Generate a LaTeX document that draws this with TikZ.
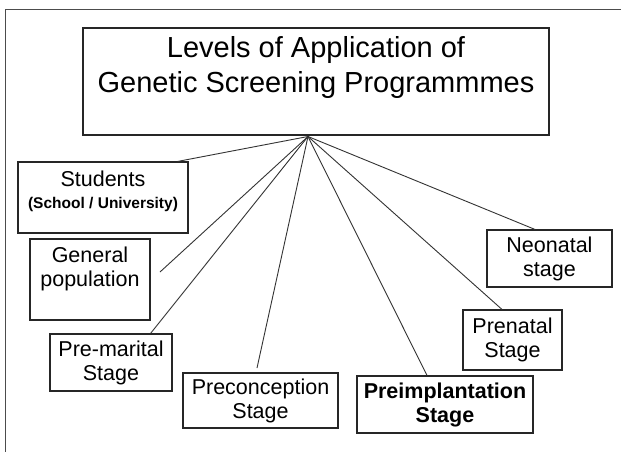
\documentclass[tikz,border=0pt]{standalone}
\usepackage{fontspec}
\setmainfont{Liberation Sans}
\newcommand\bxfont{\fontsize{21.5}{24}\selectfont}
\begin{document}
\begin{tikzpicture}[x=1pt,y=-1pt,
  box/.style={draw=black!85, line width=1.1pt, inner sep=0pt, align=center, font=\bxfont},
  txt/.style={inner sep=0pt, align=center, font=\bxfont},
  link/.style={draw=black!80, line width=0.9pt},
  frameline/.style={draw=black!70, line width=1pt}]
\fill[white] (0,0) rectangle (621,452);
\useasboundingbox (0,0) rectangle (621,452);
\draw[frameline] (5,452) -- (5,10) -- (621,10);
% title
\node[box, line width=1.4pt, minimum width=466pt, minimum height=107pt] (title) at (316,81.5) {};
\node[txt, font=\fontsize{29}{35}\selectfont, anchor=north] (titletext) at (316,36.2)
  {Levels of Application of\\Genetic Screening Programmmes};
% boxes
\node[box, minimum width=170pt, minimum height=71pt] (stud) at (103,197.5) {};
\node[txt] (studtext) at ([yshift=6.5pt]stud.center)
  {Students\\[-2pt]{\bfseries\fontsize{15.5}{18}\selectfont (School / University)}};
\node[box, minimum width=120pt, minimum height=81pt] (gen) at (90,279.5) {};
\node[txt] (gentext) at ([yshift=10.5pt]gen.center) {General\\population};
\node[box, minimum width=122pt, minimum height=57pt] (prem) at (111,362.5) {Pre-marital\\Stage};
\node[box, minimum width=155pt, minimum height=55pt] (pcon) at (260.5,400.5) {Preconception\\Stage};
\node[box, minimum width=176pt, minimum height=57pt, font=\bxfont\bfseries] (pimp) at (445,404.5) {Preimplantation\\Stage};
\node[box, minimum width=99pt, minimum height=60pt] (pnat) at (512.5,340) {Prenatal\\Stage};
\node[box, minimum width=125pt, minimum height=57pt] (neo) at (549.5,258.5) {Neonatal\\stage};
% connectors
\coordinate (hub) at (308,136.5);
\coordinate (genend) at (160,272);
\coordinate (pcend) at (257,368);
\draw[link] (hub) -- ([xshift=-11pt]stud.north east);
\draw[link] (hub) -- (genend);
\draw[link] (hub) -- ([xshift=-22pt]prem.north east);
\draw[link] (hub) -- (pcend);
\draw[link] (hub) -- ([xshift=-18pt]pimp.north);
\draw[link] (hub) -- ([xshift=-10.5pt]pnat.north);
\draw[link] (hub) -- ([xshift=-14.5pt]neo.north);
\end{tikzpicture}
\end{document}
